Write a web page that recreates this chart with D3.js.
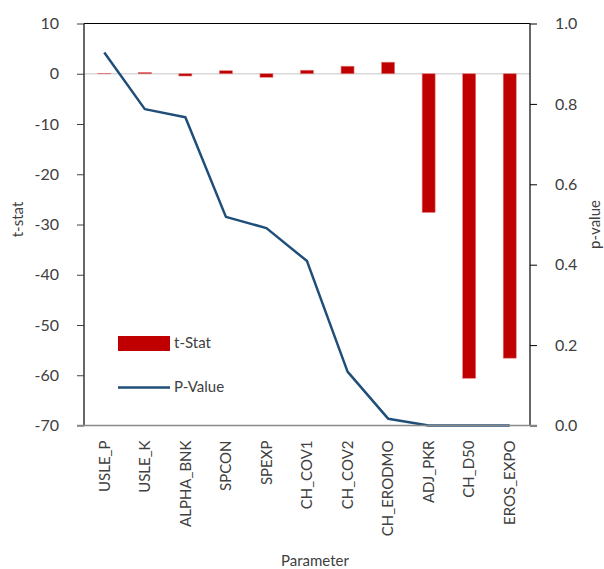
<!DOCTYPE html>
<html>
<head>
<meta charset="utf-8">
<script src="https://cdn.jsdelivr.net/npm/d3@7"></script>
<style>
  body { margin: 0; background: #fff; }
  text { font-family: Lato, "Noto Sans", sans-serif; fill: #404040; }
</style>
</head>
<body>
<div id="chart"></div>
<script>
// chart data
const parameters = ["USLE_P", "USLE_K", "ALPHA_BNK", "SPCON", "SPEXP", "CH_COV1",
    "CH_COV2", "CH_ERODMO", "ADJ_PKR", "CH_D50", "EROS_EXPO"];
const tStat = [0.08, 0.25, -0.45, 0.6, -0.7, 0.7, 1.5, 2.3, -27.6, -60.6, -56.6];
const pValue = [0.928, 0.787, 0.767, 0.519, 0.491, 0.409, 0.134, 0.017, 0.0, 0.0, 0.0];
const tTicks = [10, 0, -10, -20, -30, -40, -50, -60, -70];
const pTicks = [0, 0.2, 0.4, 0.6, 0.8, 1.0];

const W = 604, H = 569;
const margin = { top: 23.5, right: 74, bottom: 143.5, left: 84 };
const width = W - margin.left - margin.right,
    height = H - margin.top - margin.bottom;

const svg = d3.select("#chart")
    .append("svg")
    .attr("width", W)
    .attr("height", H);

const g = svg.append("g")
    .attr("transform", `translate(${margin.left},${margin.top})`);

const x = d3.scaleBand()
    .domain(parameters)
    .range([0, width]);

const yT = d3.scaleLinear().domain([-70, 10]).range([height, 0]);
const yP = d3.scaleLinear().domain([0, 1]).range([height, 0]);

// zero line
g.append("line")
    .attr("x1", 0).attr("x2", width)
    .attr("y1", yT(0)).attr("y2", yT(0))
    .attr("stroke", "#d9d9d9")
    .attr("stroke-width", 1.5);

// bars
const barW = 13;
g.append("g")
    .selectAll("rect")
    .data(tStat)
    .enter().append("rect")
    .attr("x", (d, i) => x(parameters[i]) + x.bandwidth() / 2 - barW / 2)
    .attr("y", d => yT(Math.max(0, d)))
    .attr("width", barW)
    .attr("height", d => Math.abs(yT(d) - yT(0)))
    .attr("fill", "#c00000")
    .attr("stroke", "#e07a7a")
    .attr("stroke-width", 0.6);

// p-value line
const line = d3.line()
    .x((d, i) => x(parameters[i]) + x.bandwidth() / 2)
    .y(d => yP(d));

g.append("path")
    .datum(pValue)
    .attr("d", line)
    .attr("fill", "none")
    .attr("stroke", "#1f4e79")
    .attr("stroke-width", 2.5)
    .attr("stroke-linejoin", "round");

// left axis
const axL = g.append("g")
    .call(d3.axisLeft(yT).tickValues(tTicks).tickSize(7).tickPadding(18).tickFormat(d3.format("d")));
axL.select(".domain").attr("stroke", "#000").attr("stroke-width", 1.2).attr("d", `M0,0V${height}`);
axL.selectAll(".tick line").attr("stroke", "#404040");
axL.selectAll(".tick text").style("font-size", "16px").attr("fill", "#404040")
    .text(d => d < 0 ? "-" + Math.abs(d) : d);

// right axis
const axR = g.append("g")
    .attr("transform", `translate(${width},0)`)
    .call(d3.axisRight(yP).tickValues(pTicks).tickSize(7).tickPadding(18).tickFormat(d3.format(".1f")));
axR.select(".domain").attr("stroke", "#000").attr("stroke-width", 1.2).attr("d", `M0,0V${height}`);
axR.selectAll(".tick line").attr("stroke", "#000");
axR.selectAll(".tick text").style("font-size", "16px").attr("fill", "#404040");

// top border
g.append("line")
    .attr("x1", 0).attr("x2", width)
    .attr("y1", 0).attr("y2", 0)
    .attr("stroke", "#000")
    .attr("stroke-width", 1.2);

// bottom category axis
const axB = g.append("g")
    .attr("transform", `translate(0,${height})`)
    .call(d3.axisBottom(x).tickSize(0).tickPadding(0));
axB.select(".domain").attr("stroke", "#898989").attr("stroke-width", 1.5)
    .attr("d", `M-7,0H${width + 7}`);
axB.selectAll(".tick text")
    .style("font-size", "15px")
    .attr("fill", "#404040")
    .attr("text-anchor", "end")
    .attr("transform", "rotate(-90)")
    .attr("x", -15)
    .attr("y", 0)
    .attr("dy", "0.35em");

// axis titles
svg.append("text")
    .attr("transform", `translate(23,${margin.top + height / 2 - 5}) rotate(-90)`)
    .attr("text-anchor", "middle")
    .style("font-size", "15px")
    .text("t-stat");

svg.append("text")
    .attr("transform", `translate(600,${margin.top + height / 2}) rotate(-90)`)
    .attr("text-anchor", "middle")
    .style("font-size", "15px")
    .text("p-value");

svg.append("text")
    .attr("x", margin.left + width / 2 + 8)
    .attr("y", 566)
    .attr("text-anchor", "middle")
    .style("font-size", "15px")
    .text("Parameter");

// legend
const legend = svg.append("g");
legend.append("rect")
    .attr("x", 118).attr("y", 336)
    .attr("width", 52).attr("height", 15)
    .attr("fill", "#c00000");
legend.append("text")
    .attr("x", 174).attr("y", 343)
    .attr("dy", "0.35em")
    .style("font-size", "15px")
    .text("t-Stat");
legend.append("line")
    .attr("x1", 118).attr("x2", 170)
    .attr("y1", 387.5).attr("y2", 387.5)
    .attr("stroke", "#1f4e79")
    .attr("stroke-width", 2.5);
legend.append("text")
    .attr("x", 174).attr("y", 387)
    .attr("dy", "0.35em")
    .style("font-size", "15px")
    .text("P-Value");
</script>
</body>
</html>
